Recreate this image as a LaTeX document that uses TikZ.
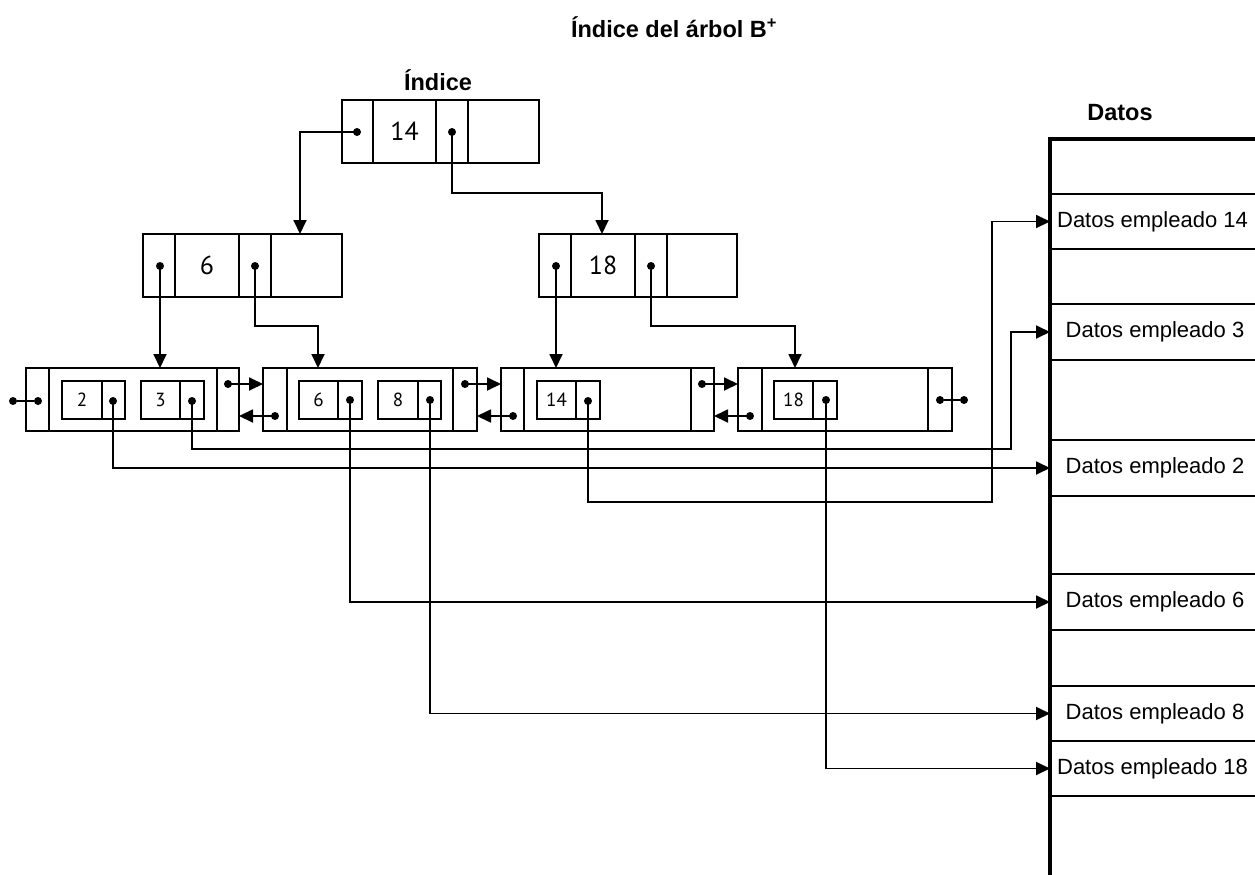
\documentclass[tikz,border=0pt]{standalone}
\usepackage{fontspec}
\setmainfont{Liberation Sans}
\newfontfamily\keyfont{PT Sans}
\usetikzlibrary{arrows.meta,calc}
\tikzset{
  box/.style={draw, line width=1.8pt, inner sep=0pt, outer sep=0pt},
  dot/.style={circle, fill, inner sep=0pt, outer sep=0pt, minimum size=8pt},
  wire/.style={line width=1.8pt},
  ptr/.style={line width=1.8pt, -{Triangle[length=14pt,width=13pt]}},
  bigkey/.style={font=\keyfont\fontsize{26}{30}\selectfont, inner sep=0pt},
  smallkey/.style={font=\keyfont\fontsize{19}{22}\selectfont, inner sep=0pt},
  head/.style={font=\fontsize{23.5}{28}\selectfont\bfseries, inner sep=0pt},
  rowtext/.style={font=\fontsize{22}{26}\selectfont, inner sep=0pt, outer sep=0pt, minimum width=205pt, minimum height=55pt},
}
\begin{document}
\begin{tikzpicture}[x=1pt,y=-1pt]
\useasboundingbox (0,0) rectangle (1255,875);

% headings
\node[head] (title) at (674,27) {Índice del árbol B\textsuperscript{+}};
\node[head] (indice) at (438,80) {Índice};
\node[head] (datos) at (1120,113) {Datos};

% ---------- root ----------
\node[box, minimum width=197pt, minimum height=63pt] (root) at (440.5,131.5) {};
\draw[wire] (373,100) -- (373,163) (436,100) -- (436,163) (468,100) -- (468,163);
\node[bigkey] (k14r) at (404.5,131.5) {14};
\node[dot] (rp1) at (357,132) {};
\node[dot] (rp2) at (452,132) {};

% ---------- level 2 ----------
\node[box, minimum width=199pt, minimum height=63pt] (nA) at (242.5,265.5) {};
\draw[wire] (175,234) -- (175,297) (239,234) -- (239,297) (271,234) -- (271,297);
\node[bigkey] (k6a) at (207,265.5) {6};
\node[dot] (ap1) at (160,266) {};
\node[dot] (ap2) at (255,266) {};

\node[box, minimum width=198pt, minimum height=63pt] (nB) at (638,265.5) {};
\draw[wire] (571,234) -- (571,297) (635,234) -- (635,297) (667,234) -- (667,297);
\node[bigkey] (k18b) at (603,265.5) {18};
\node[dot] (bp1) at (556,266) {};
\node[dot] (bp2) at (651,266) {};

\coordinate (nAin) at (300,234);
\coordinate (nBin) at (602,234);

% ---------- leaves ----------
% leaf 1
\node[box, minimum width=213pt, minimum height=63pt] (L1) at (132.5,399.5) {};
\draw[wire] (49,368) -- (49,431) (217,368) -- (217,431);
\node[box, minimum width=63pt, minimum height=38pt] (b2) at (93.5,400) {};
\draw[wire] (102,381) -- (102,419);
\node[smallkey] at (82,400) {2};
\node[dot] (k2) at (113,401) {};
\node[box, minimum width=63pt, minimum height=38pt] (b3) at (172.5,400) {};
\draw[wire] (180,381) -- (180,419);
\node[smallkey] at (160.5,400) {3};
\node[dot] (k3) at (192,401) {};
\node[dot] (n1a) at (13,401) {};
\node[dot] (n1b) at (38,401) {};
\node[dot] (L1r) at (228,384) {};

% leaf 2
\node[box, minimum width=214pt, minimum height=63pt] (L2) at (370,399.5) {};
\draw[wire] (287,368) -- (287,431) (453,368) -- (453,431);
\node[box, minimum width=63pt, minimum height=38pt] (b6) at (330.5,400) {};
\draw[wire] (338,381) -- (338,419);
\node[smallkey] at (318.5,400) {6};
\node[dot] (k6) at (350,400) {};
\node[box, minimum width=63pt, minimum height=38pt] (b8) at (409.5,400) {};
\draw[wire] (418,381) -- (418,419);
\node[smallkey] at (398,400) {8};
\node[dot] (k8) at (430,400) {};
\node[dot] (L2l) at (275,416) {};
\node[dot] (L2r) at (465,384) {};

% leaf 3
\node[box, minimum width=213pt, minimum height=63pt] (L3) at (607.5,399.5) {};
\draw[wire] (524,368) -- (524,431) (691,368) -- (691,431);
\node[box, minimum width=63pt, minimum height=38pt] (b14) at (568.5,400) {};
\draw[wire] (576,381) -- (576,419);
\node[smallkey] at (556.5,400) {14};
\node[dot] (k14) at (588,401) {};
\node[dot] (L3l) at (513,416) {};
\node[dot] (L3r) at (702,384) {};

% leaf 4
\node[box, minimum width=214pt, minimum height=63pt] (L4) at (845,399.5) {};
\draw[wire] (762,368) -- (762,431) (928,368) -- (928,431);
\node[box, minimum width=63pt, minimum height=38pt] (b18) at (805.5,400) {};
\draw[wire] (813,381) -- (813,419);
\node[smallkey] at (793.5,400) {18};
\node[dot] (k18) at (826,400) {};
\node[dot] (L4l) at (750,416) {};
\node[dot] (n4a) at (940,400) {};
\node[dot] (n4b) at (964,400) {};

% ---------- data column ----------
\draw[line width=3.8pt] (1257,139) -- (1050,139) -- (1050,877);
\foreach \yy in {194,249,304,360,440,496,574,630,686,741,796}
  \draw[wire] (1050,\yy) -- (1255,\yy);
\node[rowtext] (d14) at (1152.5,221.5) {Datos empleado 14};
\node[rowtext] (d3) at (1155,332) {Datos empleado 3};
\node[rowtext] (d2) at (1155,468) {Datos empleado 2};
\node[rowtext] (d6) at (1155,602) {Datos empleado 6};
\node[rowtext] (d8) at (1155,713.5) {Datos empleado 8};
\node[rowtext] (d18) at (1152.5,768.5) {Datos empleado 18};
\coordinate (e14) at (1050,221.5);
\coordinate (e3) at (1050,332);
\coordinate (e2) at (1050,468);
\coordinate (e6) at (1050,602);
\coordinate (e8) at (1050,713.5);
\coordinate (e18) at (1050,768.5);

% ---------- connectors ----------
% root -> level 2
\draw[ptr] (rp1.center) -| (nAin);
\draw[ptr] (rp2.center) -- ++(0,61) -| (nBin);
% level 2 -> leaves
\draw[ptr] (ap1.center) -- (ap1.center |- L1.north);
\draw[ptr] (ap2.center) -- ++(0,60) -| (318,368);
\draw[ptr] (bp1.center) -- (bp1.center |- L3.north);
\draw[ptr] (bp2.center) -- ++(0,60) -| (795,368);
% null pointers
\draw[wire] (n1a) -- (n1b);
\draw[wire] (n4a) -- (n4b);
% sibling links
\draw[ptr] (L1r.center) -- (L1r.center -| L2.west);
\draw[ptr] (L2r.center) -- (L2r.center -| L3.west);
\draw[ptr] (L3r.center) -- (L3r.center -| L4.west);
\draw[ptr] (L2l.center) -- (L2l.center -| L1.east);
\draw[ptr] (L3l.center) -- (L3l.center -| L2.east);
\draw[ptr] (L4l.center) -- (L4l.center -| L3.east);
% leaves -> data
\coordinate (j3) at (1011,449);
\coordinate (j14) at (992,502);
\draw[ptr] (k2.center) |- (e2);
\draw[ptr] (k3.center) |- (j3) |- (e3);
\draw[ptr] (k14.center) |- (j14) |- (e14);
\draw[ptr] (k6.center) |- (e6);
\draw[ptr] (k8.center) |- (e8);
\draw[ptr] (k18.center) |- (e18);
\end{tikzpicture}
\end{document}
